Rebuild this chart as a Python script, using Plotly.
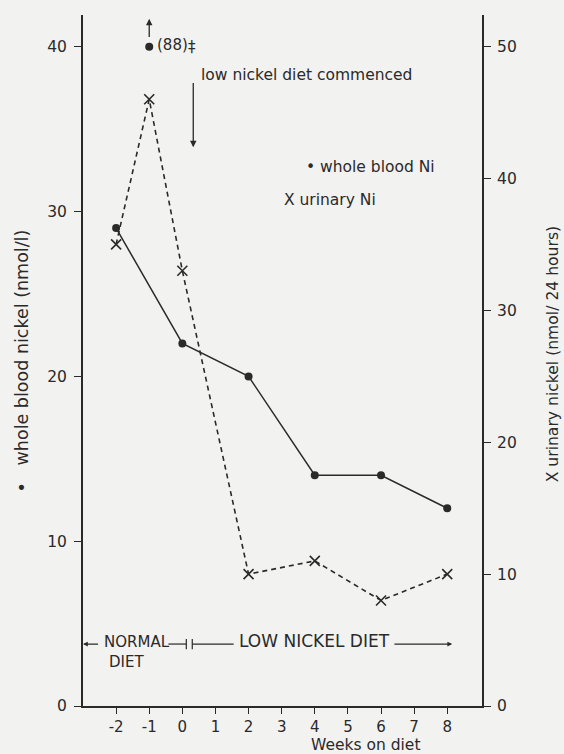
import plotly.graph_objects as go

# ---- data ----
blood_weeks = [-2, 0, 2, 4, 6, 8]
blood_ni = [29, 22, 20, 14, 14, 12]          # nmol/l (left axis)
offscale_week = [-1]
offscale_value = [88]                          # plotted at top of scale (40)
offscale_plot = [40]
urine_weeks = [-2, -1, 0, 2, 4, 6, 8]
urine_ni = [35, 46, 33, 10, 11, 8, 10]        # nmol/24 h (right axis)
x_ticks = [-2, -1, 0, 1, 2, 3, 4, 5, 6, 7, 8]
left_ticks = [0, 10, 20, 30, 40]
right_ticks = [0, 10, 20, 30, 40, 50]

INK = "#2a2a2a"
BG = "#f2f2f0"
FONT = "DejaVu Sans"

fig = go.Figure()

fig.add_trace(go.Scatter(
    x=urine_weeks, y=urine_ni, yaxis="y2", mode="lines+markers",
    line=dict(color=INK, width=1.6, dash="5px,4px"),
    marker=dict(symbol="x-thin", size=10, line=dict(color=INK, width=1.6)),
    showlegend=False, cliponaxis=False))

fig.add_trace(go.Scatter(
    x=blood_weeks, y=blood_ni, mode="lines+markers",
    line=dict(color=INK, width=1.5),
    marker=dict(symbol="circle", size=8, color=INK),
    showlegend=False, cliponaxis=False))

fig.add_trace(go.Scatter(
    x=offscale_week, y=offscale_plot, mode="markers",
    marker=dict(symbol="circle", size=8, color=INK),
    showlegend=False, cliponaxis=False))

ann = []
def txt(x, y, s, size=14, xanchor="left", yanchor="middle", xref="x", yref="y", angle=0):
    ann.append(dict(x=x, y=y, text=s, showarrow=False, xref=xref, yref=yref,
                    xanchor=xanchor, yanchor=yanchor, textangle=angle,
                    font=dict(family=FONT, size=size, color=INK)))

# off-scale label
txt(-0.82, 40.1, "(%d)" % offscale_value[0], size=15)
txt(0.30, 40.0, "‡", size=15, xanchor="center")
ann.append(dict(x=-1, y=41.7, ax=-1, ay=40.5, xref="x", yref="y", axref="x", ayref="y",
                showarrow=True, arrowhead=2, arrowsize=1, arrowwidth=1.3, arrowcolor=INK, text=""))

# diet commenced
txt(0.50, 38.3, "low nickel diet commenced", size=15.5)
ann.append(dict(x=0.33, y=33.9, ax=0.33, ay=37.9, xref="x", yref="y", axref="x", ayref="y",
                showarrow=True, arrowhead=2, arrowsize=1, arrowwidth=1.3, arrowcolor=INK, text=""))

# legend texts
txt(3.68, 32.7, "• whole blood Ni", size=15.5)
txt(3.02, 30.7, "X urinary Ni", size=15.5)

# bottom diet periods
txt(-2.42, 3.9, "NORMAL", size=15)
txt(-2.28, 2.65, "DIET", size=15)
txt(1.66, 3.95, "LOW NICKEL DIET", size=17)
ann.append(dict(x=-3.0, y=3.76, ax=-2.5, ay=3.76, xref="x", yref="y", axref="x", ayref="y",
                showarrow=True, arrowhead=2, arrowsize=0.8, arrowwidth=1.2, arrowcolor=INK, text=""))
ann.append(dict(x=8.15, y=3.76, ax=6.36, ay=3.76, xref="x", yref="y", axref="x", ayref="y",
                showarrow=True, arrowhead=2, arrowsize=0.8, arrowwidth=1.2, arrowcolor=INK, text=""))

shapes = [
    dict(type="line", x0=-0.42, x1=0.12, y0=3.76, y1=3.76, xref="x", yref="y", line=dict(color=INK, width=1.2)),
    dict(type="line", x0=0.12, x1=0.12, y0=3.45, y1=4.07, xref="x", yref="y", line=dict(color=INK, width=1.2)),
    dict(type="line", x0=0.30, x1=0.30, y0=3.45, y1=4.07, xref="x", yref="y", line=dict(color=INK, width=1.2)),
    dict(type="line", x0=0.30, x1=1.55, y0=3.76, y1=3.76, xref="x", yref="y", line=dict(color=INK, width=1.2)),
]

# axis titles
txt(-0.153, 0.50, "•   whole blood nickel (nmol/l)", size=17.5, xanchor="center", xref="paper", yref="paper", angle=-90)
txt(1.178, 0.509, "X urinary nickel (nmol/ 24 hours)", size=15.6, xanchor="center", xref="paper", yref="paper", angle=-90)
txt(0.707, -0.056, "Weeks on diet", size=15.5, xanchor="center", xref="paper", yref="paper")

fig.update_layout(
    width=564, height=754,
    margin=dict(l=83, r=82, t=15, b=48),
    paper_bgcolor=BG, plot_bgcolor=BG,
    font=dict(family=FONT, size=14, color=INK),
    showlegend=False,
    annotations=ann, shapes=shapes,
    xaxis=dict(range=[-3.0, 9.05], tickvals=x_ticks, ticktext=[str(v) for v in x_ticks],
               showgrid=False, zeroline=False, showline=True, linecolor=INK, linewidth=2,
               ticks="outside", ticklen=6, tickwidth=1.3, tickcolor=INK,
               tickfont=dict(family=FONT, size=15, color=INK)),
    yaxis=dict(range=[0, 41.93], tickvals=left_ticks, showgrid=False, zeroline=False,
               showline=True, linecolor=INK, linewidth=2,
               ticks="outside", ticklen=7, tickwidth=1.3, tickcolor=INK, ticklabelstandoff=4,
               tickfont=dict(family=FONT, size=15.5, color=INK)),
    yaxis2=dict(range=[0, 52.39], tickvals=right_ticks, overlaying="y", side="right",
                showgrid=False, zeroline=False, showline=True, linecolor=INK, linewidth=2,
                ticks="outside", ticklen=7, tickwidth=1.3, tickcolor=INK, ticklabelstandoff=3,
                tickfont=dict(family=FONT, size=15.5, color=INK)),
)

fig.write_html("out.html", config={"displayModeBar": False},
               post_script="document.body.style.margin='0px';document.body.style.overflow='hidden';")
